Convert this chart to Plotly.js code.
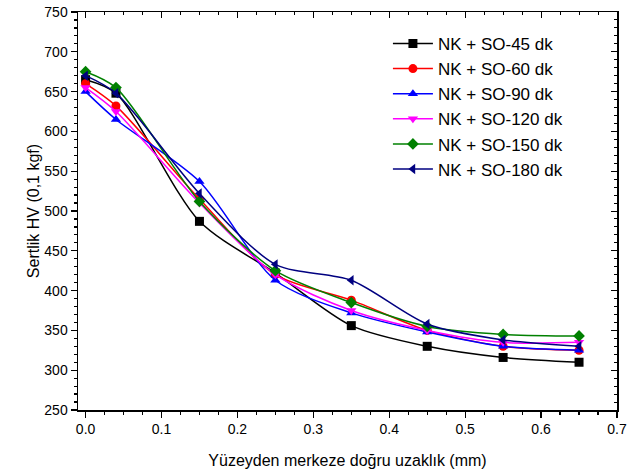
<!DOCTYPE html>
<html>
<head>
<meta charset="utf-8">
<script src="https://cdn.plot.ly/plotly-3.0.1.min.js"></script>
<style>html,body{margin:0;padding:0;background:#fff}#chart{width:639px;height:475px}</style>
</head>
<body>
<div id="chart"></div>
<script>
const distance = [0, 0.04, 0.15, 0.25, 0.35, 0.45, 0.55, 0.65];
const so45  = [665, 648, 487, 422, 356, 330, 316, 310];
const so60  = [660, 632, 515, 420, 388, 350, 330, 325];
const so90  = [650, 615, 537, 413, 372, 348, 330, 325];
const so120 = [655, 625, 510, 420, 375, 350, 335, 335];
const so150 = [675, 655, 512, 425, 385, 355, 345, 343];
const so180 = [670, 648, 522, 433, 413, 358, 338, 330];
const seriesNames = ["NK + SO-45 dk","NK + SO-60 dk","NK + SO-90 dk","NK + SO-120 dk","NK + SO-150 dk","NK + SO-180 dk"];
const seriesValues = [so45, so60, so90, so120, so150, so180];
const colors = ["#000000","#ff0000","#0000ff","#ff00ff","#008000","#000080"];
const symbols = ["square","circle","triangle-up","triangle-down","diamond","triangle-left"];

const traces = seriesValues.map((v, i) => ({
  x: distance, y: v, name: seriesNames[i], type: "scatter", mode: "lines+markers",
  line: {color: colors[i], width: 1.5, shape: "spline", smoothing: 0.8},
  marker: {color: colors[i], symbol: symbols[i], size: 9}
}));

const font = {family: "Liberation Sans, Arial, sans-serif", color: "#000"};
const layout = {
  width: 639, height: 475,
  margin: {l: 78, r: 22, t: 12, b: 65},
  paper_bgcolor: "#fff", plot_bgcolor: "#fff",
  font: font,
  showlegend: true,
  legend: {x: 0.575, y: 0.965, xanchor: "left", yanchor: "top", bgcolor: "rgba(0,0,0,0)",
           font: {family: font.family, size: 17, color: "#000"}, tracegroupgap: 0, itemwidth: 40},
  xaxis: {
    range: [-0.01, 0.7], tick0: 0, dtick: 0.1, tickformat: ".1f",
    ticks: "outside", ticklen: 6, tickwidth: 1.2, tickcolor: "#000",
    minor: {dtick: 0.025, ticks: "outside", ticklen: 3, tickcolor: "#000"},
    showline: true, linecolor: "#000", linewidth: 1.5, showgrid: false, zeroline: false,
    tickfont: {family: font.family, size: 14, color: "#000"},
    title: {text: "Yüzeyden merkeze doğru uzaklık (mm)", font: {family: font.family, size: 16, color: "#000"}, standoff: 18}
  },
  yaxis: {
    range: [250, 750], tick0: 250, dtick: 50,
    ticks: "outside", ticklen: 6, tickwidth: 1.2, tickcolor: "#000",
    minor: {dtick: 10, ticks: "outside", ticklen: 3, tickcolor: "#000"},
    showline: true, linecolor: "#000", linewidth: 1.5, showgrid: false, zeroline: false,
    tickfont: {family: font.family, size: 14, color: "#000"},
    title: {text: "Sertlik HV (0,1 kgf)", font: {family: font.family, size: 16, color: "#000"}, standoff: 0}
  },
  xaxis2: {
    overlaying: "x", side: "top", anchor: "y2", range: [-0.01, 0.7], tick0: 0, dtick: 0.1,
    ticks: "inside", ticklen: 6, tickcolor: "#000", showticklabels: false,
    minor: {dtick: 0.025, ticks: "inside", ticklen: 3, tickcolor: "#000"},
    showline: true, linecolor: "#000", linewidth: 1.5, showgrid: false, zeroline: false
  },
  yaxis2: {
    overlaying: "y", side: "right", anchor: "x2", range: [250, 750], tick0: 250, dtick: 50,
    ticks: "inside", ticklen: 6, tickcolor: "#000", showticklabels: false,
    minor: {dtick: 10, ticks: "inside", ticklen: 3, tickcolor: "#000"},
    showline: true, linecolor: "#000", linewidth: 1.5, showgrid: false, zeroline: false
  }
};
traces.push({x: [], y: [], xaxis: "x2", yaxis: "y2", showlegend: false, type: "scatter", mode: "lines", hoverinfo: "skip"});
Plotly.newPlot("chart", traces, layout, {displayModeBar: false, staticPlot: true});
</script>
</body>
</html>
